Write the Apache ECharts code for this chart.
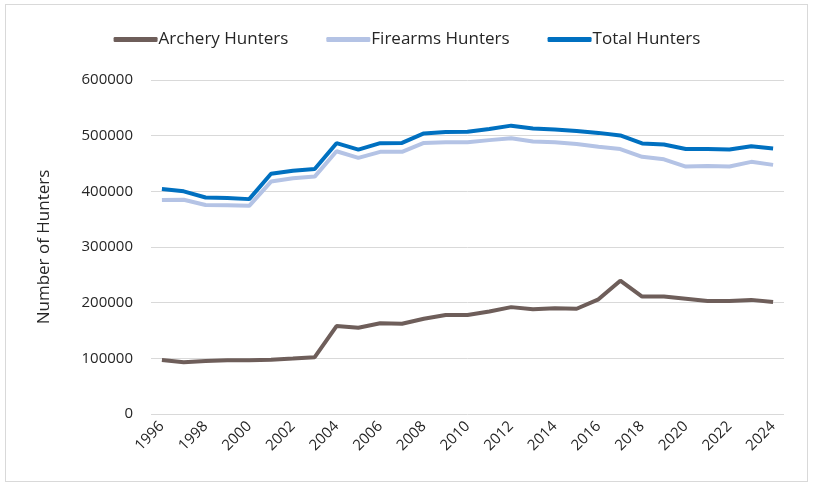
<!DOCTYPE html>
<html>
<head>
<meta charset="utf-8">
<script src="https://cdn.jsdelivr.net/npm/echarts@6/dist/echarts.min.js"></script>
<style>
  html, body { margin: 0; padding: 0; background: #fff; }
  #main { width: 814px; height: 485px; }
  .frame { position: absolute; left: 5px; top: 4px; width: 801px; height: 476px; border: 1px solid #d9d9d9; pointer-events: none; }
</style>
</head>
<body>
<div id="main"></div>
<div class="frame"></div>
<script>
  var years = ['1996','1997','1998','1999','2000','2001','2002','2003','2004','2005',
    '2006','2007','2008','2009','2010','2011','2012','2013','2014','2015',
    '2016','2017','2018','2019','2020','2021','2022','2023','2024'];
  var archery = [97000, 93000, 95000, 96500, 96500, 97500, 99500, 102000, 158000, 155000,
    163000, 162000, 171000, 178000, 178000, 184000, 192000, 188000, 190000, 189000,
    206000, 239500, 211000, 211000, 207000, 203000, 203000, 205000, 201000];
  var firearms = [384500, 385000, 375500, 375000, 374000, 417500, 423500, 426500, 472000, 460000,
    471000, 471000, 487000, 488000, 488000, 492000, 495500, 489500, 488000, 485000,
    480000, 476000, 462000, 457500, 444500, 445500, 444500, 453000, 447500];
  var total = [404000, 400000, 389000, 388000, 386000, 431500, 437000, 440000, 486500, 475000,
    486500, 487000, 504000, 506500, 507000, 512000, 518000, 513000, 511000, 508500,
    505000, 500500, 486000, 484000, 476000, 476000, 475000, 481000, 477000];

  var chart = echarts.init(document.getElementById('main'));
  var font = 'Open Sans, Noto Sans, sans-serif';
  var option = {
    animation: false,
    color: ['#6E5E5A', '#B4C3E5', '#0070C0'],
    legend: {
      top: 26,
      left: 'center',
      itemWidth: 44,
      itemHeight: 5,
      itemGap: 38,
      icon: 'roundRect',
      textStyle: { fontFamily: font, fontSize: 17, color: '#262626', padding: [0, 0, 0, -4] },
      data: ['Archery Hunters', 'Firearms Hunters', 'Total Hunters']
    },
    grid: { left: 151, right: 30, top: 80, bottom: 71 },
    xAxis: {
      type: 'category',
      data: years,
      boundaryGap: true,
      axisLine: { show: false },
      axisTick: { show: false },
      axisLabel: {
        interval: 1,
        rotate: 45,
        margin: 10,
        fontFamily: font,
        fontSize: 15,
        color: '#262626'
      }
    },
    yAxis: {
      type: 'value',
      min: 0,
      max: 600000,
      interval: 100000,
      name: 'Number of Hunters',
      nameLocation: 'middle',
      nameGap: 98,
      nameRotate: 90,
      nameTextStyle: { fontFamily: font, fontSize: 17, color: '#262626' },
      axisLine: { show: false },
      axisTick: { show: false },
      axisLabel: {
        fontFamily: font, fontSize: 15, color: '#262626', margin: 18,
        formatter: function (v) { return String(v); }
      },
      splitLine: { lineStyle: { color: '#d9d9d9', width: 1 } }
    },
    series: [
      { name: 'Archery Hunters', type: 'line', data: archery, showSymbol: false, lineStyle: { width: 4 } },
      { name: 'Firearms Hunters', type: 'line', data: firearms, showSymbol: false, lineStyle: { width: 4 } },
      { name: 'Total Hunters', type: 'line', data: total, showSymbol: false, lineStyle: { width: 4 } }
    ]
  };
  option && chart.setOption(option);
</script>
</body>
</html>
